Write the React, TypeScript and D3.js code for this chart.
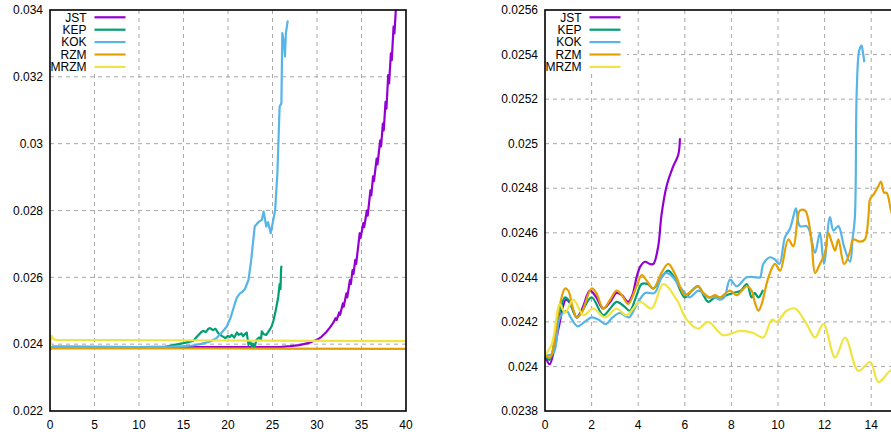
import React from "react";
import * as d3 from "d3";

type Pt = [number, number];

const seriesNames = ["JST", "KEP", "KOK", "RZM", "MRZM"];
const seriesColors = ["#9400d3", "#009e73", "#56b4e9", "#e69f00", "#f0e442"];

// Long run (left panel)
const leftJST: Pt[] = [
  [0, 0.02385], [0.3, 0.02392], [10, 0.02391], [20, 0.02391], [26, 0.02392], [27, 0.02394],
  [28, 0.02397], [29, 0.02403], [30, 0.02413], [30.5, 0.02422], [31, 0.02435], [31.4, 0.02448],
  [31.8, 0.02463], [32.1, 0.02478], [32.2, 0.02472], [32.5, 0.02495], [32.6, 0.02488],
  [32.9, 0.02522], [33.0, 0.02512], [33.3, 0.02552], [33.4, 0.02540], [33.7, 0.02592],
  [33.8, 0.02580], [34.0, 0.02622], [34.1, 0.02610], [34.3, 0.02652], [34.4, 0.02640],
  [34.8, 0.02732], [34.9, 0.02718], [35.2, 0.02762], [35.3, 0.02750], [35.6, 0.02800],
  [35.7, 0.02785], [36.0, 0.02860], [36.1, 0.02845], [36.3, 0.02902], [36.4, 0.02888],
  [36.7, 0.02955], [36.8, 0.02938], [37.1, 0.03010], [37.2, 0.02992], [37.4, 0.03060],
  [37.5, 0.03040], [37.7, 0.03125], [37.8, 0.03105], [38.0, 0.03205], [38.1, 0.03180],
  [38.3, 0.03270], [38.4, 0.03250], [38.6, 0.03350], [38.7, 0.03330], [38.9, 0.03420],
  [39.1, 0.03480],
];
const leftKEP: Pt[] = [
  [0, 0.02385], [0.3, 0.02392], [10, 0.02391], [13, 0.02393], [14, 0.02398], [15, 0.02403],
  [16.1, 0.02410], [16.6, 0.02425], [17.0, 0.02436], [17.2, 0.02440], [17.5, 0.02436],
  [17.8, 0.02446], [18.0, 0.02448], [18.3, 0.02442], [18.6, 0.02446], [18.9, 0.02433],
  [19.3, 0.02425], [19.7, 0.02418], [20.0, 0.02425], [20.2, 0.02421], [20.4, 0.02428],
  [20.7, 0.02420], [21.0, 0.02435], [21.2, 0.02428], [21.5, 0.02432], [21.7, 0.02424],
  [21.9, 0.02430], [22.1, 0.02435], [22.3, 0.02398], [22.5, 0.02408], [22.7, 0.02392],
  [22.8, 0.02402], [23.0, 0.02392], [23.2, 0.02413], [23.5, 0.02420], [23.7, 0.02412],
  [23.8, 0.02438], [24.0, 0.02430], [24.3, 0.02428], [24.6, 0.02440], [24.9, 0.02453],
  [25.1, 0.02470], [25.3, 0.02493], [25.5, 0.02520], [25.65, 0.02542], [25.8, 0.02580],
  [25.9, 0.02565], [25.96, 0.02624], [26.0, 0.02632],
];
const leftKOK: Pt[] = [
  [0, 0.02385], [0.3, 0.02392], [10, 0.02391], [13, 0.02392], [15, 0.02394], [16, 0.02396],
  [17, 0.02401], [18, 0.02408], [18.7, 0.02418], [19.3, 0.02435], [19.85, 0.02452],
  [20.3, 0.02480], [20.7, 0.02515], [21.0, 0.02540], [21.35, 0.02552], [21.6, 0.02556],
  [21.9, 0.02565], [22.3, 0.02592], [22.6, 0.02650], [23.0, 0.02752], [23.4, 0.02765],
  [23.8, 0.02772], [24.0, 0.02797], [24.3, 0.02752], [24.5, 0.02765], [24.8, 0.02732],
  [25.3, 0.02802], [25.55, 0.02912], [25.8, 0.03111], [26.0, 0.03121], [26.1, 0.03331],
  [26.3, 0.03300], [26.4, 0.03261], [26.5, 0.03330], [26.7, 0.03366],
];
const leftRZM: Pt[] = [
  [0, 0.02385], [0.3, 0.02388], [20, 0.02387], [40, 0.02386],
];
const leftMRZM: Pt[] = [
  [0, 0.02390], [0.15, 0.02425], [0.4, 0.02415], [0.7, 0.02413], [20, 0.02411], [40, 0.02409],
];

// Short run (right panel)
const rightJST: Pt[] = [
  [0, 0.02405], [0.2, 0.02401], [0.4, 0.02408], [0.6, 0.02418], [0.9, 0.02430], [1.1, 0.02428],
  [1.36, 0.02422], [1.6, 0.02426], [1.93, 0.02434], [2.2, 0.02431], [2.5, 0.02426],
  [2.8, 0.02429], [3.07, 0.02433], [3.3, 0.02432], [3.57, 0.02429], [3.75, 0.02432],
  [3.93, 0.02440], [4.1, 0.02445], [4.29, 0.02447], [4.5, 0.02446], [4.65, 0.02446],
  [4.86, 0.02454], [5.0, 0.02468], [5.22, 0.02481], [5.51, 0.02490], [5.72, 0.02495],
  [5.79, 0.02502],
];
const rightKEP: Pt[] = [
  [0, 0.02405], [0.2, 0.02403], [0.57, 0.02422], [0.86, 0.02431], [1.0, 0.02430],
  [1.36, 0.02422], [1.6, 0.02425], [2.0, 0.02431], [2.5, 0.02423], [2.8, 0.02426],
  [3.07, 0.02429], [3.4, 0.02427], [3.64, 0.02425], [3.9, 0.02431], [4.15, 0.02437],
  [4.4, 0.02437], [4.65, 0.02435], [5.0, 0.02440], [5.29, 0.02443], [5.6, 0.02439],
  [6.0, 0.02431], [6.3, 0.02434], [6.58, 0.02436], [6.8, 0.02432], [7.0, 0.02429],
  [7.3, 0.02431], [7.51, 0.02431], [7.8, 0.02432], [8.08, 0.02433], [8.4, 0.02434],
  [8.66, 0.02437], [8.87, 0.02431], [9.0, 0.02433], [9.16, 0.02431], [9.34, 0.02434],
];
const rightKOK: Pt[] = [
  [0, 0.02405], [0.36, 0.02406], [0.64, 0.02422], [0.93, 0.02425], [1.1, 0.02422],
  [1.4, 0.02418], [1.7, 0.02420], [2.0, 0.02422], [2.3, 0.02421], [2.6, 0.02419],
  [2.9, 0.02422], [3.2, 0.02424], [3.4, 0.02423], [3.6, 0.02422], [3.9, 0.02427],
  [4.3, 0.02433], [4.7, 0.02433], [5.0, 0.02440], [5.2, 0.02442], [5.5, 0.02440],
  [5.7, 0.02437], [6.0, 0.02433], [6.2, 0.02431], [6.6, 0.02434], [7.0, 0.02431],
  [7.3, 0.02431], [7.51, 0.02430], [7.7, 0.02431], [7.94, 0.02439], [8.23, 0.02436],
  [8.66, 0.02440], [9.08, 0.02440], [9.23, 0.02440], [9.37, 0.02446], [9.66, 0.02449],
  [9.87, 0.02448], [10.06, 0.02446], [10.3, 0.02458], [10.52, 0.02462], [10.63, 0.02466],
  [10.77, 0.02471], [10.94, 0.02463], [11.23, 0.02463], [11.35, 0.02461], [11.59, 0.02451],
  [11.8, 0.02460], [11.97, 0.02446], [12.23, 0.02467], [12.38, 0.02461], [12.59, 0.02463],
  [12.83, 0.02454], [13.09, 0.02447], [13.2, 0.02457], [13.3, 0.02467], [13.38, 0.02524],
  [13.49, 0.02542], [13.59, 0.02544], [13.63, 0.02542], [13.7, 0.02537],
];
const rightRZM: Pt[] = [
  [0, 0.02405], [0.21, 0.02404], [0.57, 0.02424], [0.86, 0.02435], [1.0, 0.02434],
  [1.2, 0.02426], [1.36, 0.02422], [1.57, 0.02424], [2.0, 0.02435], [2.2, 0.02433],
  [2.5, 0.02426], [2.8, 0.02430], [3.07, 0.02434], [3.3, 0.02432], [3.57, 0.02428],
  [3.93, 0.02436], [4.15, 0.02441], [4.4, 0.02438], [4.65, 0.02435], [5.0, 0.02442],
  [5.29, 0.02446], [5.6, 0.02441], [6.0, 0.02432], [6.3, 0.02434], [6.58, 0.02436],
  [6.8, 0.02433], [7.07, 0.02431], [7.3, 0.02432], [7.51, 0.02431], [7.94, 0.02434],
  [8.23, 0.02432], [8.66, 0.02436], [8.87, 0.02434], [9.0, 0.02429], [9.16, 0.02425],
  [9.3, 0.02428], [9.59, 0.02440], [9.87, 0.02446], [10.09, 0.02443], [10.44, 0.02457],
  [10.66, 0.02454], [10.94, 0.02470], [11.16, 0.02470], [11.3, 0.02466], [11.45, 0.02455],
  [11.59, 0.02442], [11.8, 0.02446], [12.02, 0.02451], [12.16, 0.02460], [12.3, 0.02456],
  [12.45, 0.02452], [12.59, 0.02457], [12.83, 0.02446], [12.97, 0.02448], [13.1, 0.02452],
  [13.23, 0.02457], [13.52, 0.02456], [13.73, 0.02457], [13.88, 0.02467], [13.95, 0.02475],
  [14.09, 0.02477], [14.31, 0.02481], [14.42, 0.02483], [14.55, 0.02478], [14.66, 0.02478],
  [14.85, 0.02470], [15.0, 0.02465],
];
const rightMRZM: Pt[] = [
  [0, 0.02405], [0.29, 0.02410], [0.64, 0.02428], [0.86, 0.02424], [1.22, 0.02430],
  [1.65, 0.02423], [2.07, 0.02426], [2.57, 0.02422], [3.07, 0.02426], [3.5, 0.02423],
  [4.07, 0.02429], [4.58, 0.02426], [5.07, 0.02437], [5.65, 0.02430], [6.08, 0.02421],
  [6.58, 0.02417], [7.0, 0.02420], [7.65, 0.02414], [8.37, 0.02416], [8.94, 0.02415],
  [9.37, 0.02413], [9.73, 0.02421], [9.94, 0.02420], [10.37, 0.02425], [10.73, 0.02426],
  [11.23, 0.02419], [11.59, 0.02413], [11.95, 0.02419], [12.45, 0.02404], [12.88, 0.02413],
  [13.45, 0.02398], [13.96, 0.02402], [14.31, 0.02393], [14.81, 0.02398], [15.2, 0.02400],
];

const leftXTicks = [0, 5, 10, 15, 20, 25, 30, 35, 40];
const leftYTicks = [0.022, 0.024, 0.026, 0.028, 0.03, 0.032, 0.034];
const rightXTicks = [0, 2, 4, 6, 8, 10, 12, 14];
const rightYTicks = [0.0238, 0.024, 0.0242, 0.0244, 0.0246, 0.0248, 0.025, 0.0252, 0.0254, 0.0256];

const FONT = "'Liberation Sans', Arial, sans-serif";

interface PanelProps {
  id: string;
  left: number;
  right: number;
  top: number;
  bottom: number;
  xDomain: [number, number];
  yDomain: [number, number];
  xTicks: number[];
  yTicks: number[];
  series: Pt[][];
  smooth: boolean;
}

function Panel({ id, left, right, top, bottom, xDomain, yDomain, xTicks, yTicks, series, smooth }: PanelProps) {
  const x = d3.scaleLinear().domain(xDomain).range([left, right]);
  const y = d3.scaleLinear().domain(yDomain).range([bottom, top]);
  const line = d3
    .line<Pt>()
    .x((d) => x(d[0]))
    .y((d) => y(d[1]))
    .curve(smooth ? d3.curveCatmullRom.alpha(0.5) : d3.curveLinear);
  const fmt = (v: number) => String(+v.toPrecision(6));
  const legendTop = 17.3;
  const legendStep = 12.4;
  const textRight = left + 36.5;
  const clipId = `clip-${id}`;

  return (
    <g>
      <defs>
        <clipPath id={clipId}>
          <rect x={left} y={top} width={right - left} height={bottom - top} />
        </clipPath>
      </defs>
      {/* dashed grid */}
      <g stroke="#a8a8a8" strokeWidth={1} strokeDasharray="4,4">
        {xTicks
          .filter((t) => t > xDomain[0] && t < xDomain[1])
          .map((t) => (
            <line key={`gx${t}`} x1={x(t)} x2={x(t)} y1={top} y2={bottom} />
          ))}
        {yTicks
          .filter((t) => t > yDomain[0] && t < yDomain[1])
          .map((t) => (
            <line key={`gy${t}`} x1={left} x2={right} y1={y(t)} y2={y(t)} />
          ))}
      </g>
      {/* legend background */}
      <rect x={left} y={top} width={82} height={62} fill="#ffffff" />
      {/* series */}
      <g clipPath={`url(#${clipId})`} fill="none" strokeWidth={2.2} strokeLinejoin="round" strokeLinecap="round">
        {series.map((s, i) => (
          <path key={i} d={line(s) ?? ""} stroke={seriesColors[i]} />
        ))}
      </g>
      {/* border */}
      <rect x={left} y={top} width={right - left} height={bottom - top} fill="none" stroke="#000" strokeWidth={1.6} />
      {/* tick labels */}
      <g fontFamily={FONT} fontSize={12} fill="#000">
        {yTicks.map((t) => (
          <text key={`ty${t}`} x={left - 7} y={y(t)} dy="0.35em" textAnchor="end">
            {fmt(t)}
          </text>
        ))}
        {xTicks.map((t) => (
          <text key={`tx${t}`} x={x(t)} y={429} textAnchor="middle">
            {fmt(t)}
          </text>
        ))}
      </g>
      {/* legend */}
      <g fontFamily={FONT} fontSize={12} fill="#000">
        {seriesNames.map((n, i) => (
          <g key={n}>
            <text x={textRight} y={legendTop + i * legendStep} dy="0.35em" textAnchor="end">
              {n}
            </text>
            <line
              x1={textRight + 8}
              x2={textRight + 39}
              y1={legendTop + i * legendStep}
              y2={legendTop + i * legendStep}
              stroke={seriesColors[i]}
              strokeWidth={2.2}
            />
          </g>
        ))}
      </g>
    </g>
  );
}

export default function App() {
  return (
    <svg
      width={891}
      height={434}
      viewBox="0 0 891 434"
      style={{ position: "absolute", left: 0, top: 0, background: "#fff" }}
    >
      <rect x={0} y={0} width={891} height={434} fill="#fff" />
      <Panel
        id="long"
        left={50}
        right={406}
        top={10}
        bottom={411}
        xDomain={[0, 40]}
        yDomain={[0.022, 0.034]}
        xTicks={leftXTicks}
        yTicks={leftYTicks}
        series={[leftJST, leftKEP, leftKOK, leftRZM, leftMRZM]}
        smooth={false}
      />
      <Panel
        id="short"
        left={545}
        right={545 + 16 * 23.3}
        top={10}
        bottom={411}
        xDomain={[0, 16]}
        yDomain={[0.0238, 0.0256]}
        xTicks={rightXTicks}
        yTicks={rightYTicks}
        series={[rightJST, rightKEP, rightKOK, rightRZM, rightMRZM]}
        smooth={true}
      />
    </svg>
  );
}
